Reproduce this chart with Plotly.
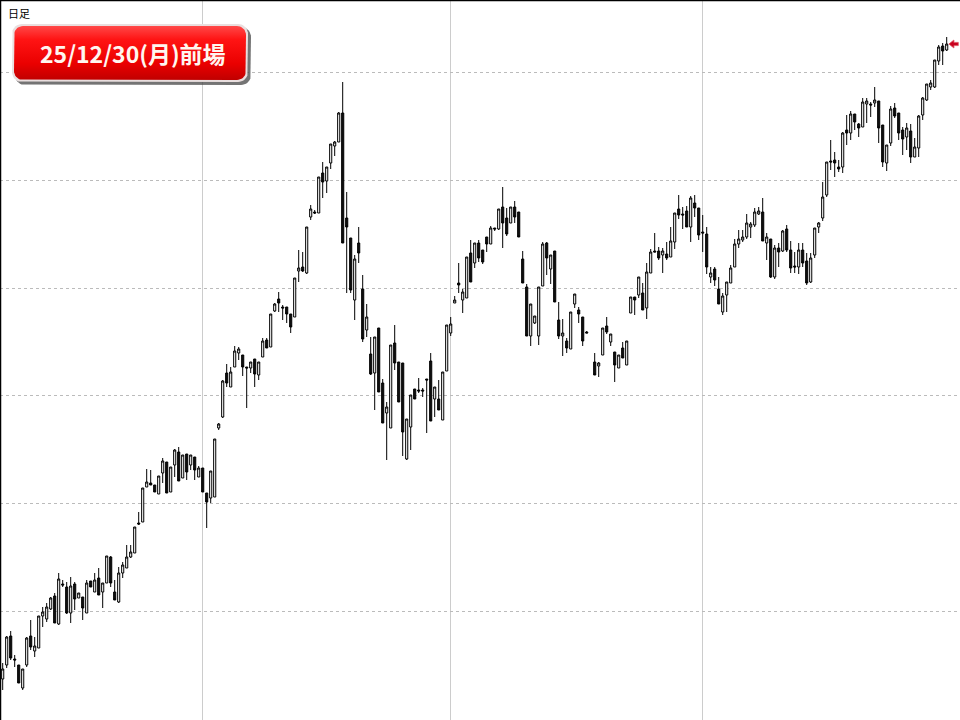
import numpy as np
import plotly.graph_objects as go

# ---------------- data (trading-day index, price units) ----------------
day = list(range(0, 147)) + list(range(148, 237))   # one empty session at 147

open_ = [41, 55, 84, 61, 55, 32, 55, 84, 69, 72,
         104, 101, 111, 124, 96, 136, 133, 107, 136, 122,
         123, 107, 139, 128, 142, 128, 137, 163, 128, 118,
         147, 152, 163, 167, 197, 198, 233, 237, 235, 226,
         247, 258, 228, 255, 268, 242, 266, 255, 263, 243,
         252, 227, 222, 223, 292, 303, 347, 333, 353, 367,
         365, 353, 352, 361, 345, 363, 380, 373, 409, 421,
         413, 413, 406, 403, 449, 453, 447, 503, 508, 507,
         547, 539, 557, 574, 578, 607, 502, 482, 420, 477,
         431, 390, 366, 347, 392, 337, 307, 292, 377, 358,
         357, 261, 293, 331, 330, 330, 341, 359, 321, 321,
         300, 349, 387, 417, 437, 420, 422, 467, 457, 477,
         470, 483, 476, 492, 491, 513, 502, 497, 513, 508,
         461, 433, 384, 397, 384, 434, 477, 451, 469, 400,
         384, 379, 371, 416, 410, 403, 388, 358, 354,
         365, 394, 378, 368, 352, 372, 355, 407, 423, 425,
         427, 412, 447, 469, 469, 465, 466, 463, 478, 511,
         506, 509, 493, 517, 512, 488, 486, 443, 451, 431,
         408, 425, 437, 453, 476, 480, 483, 493, 495, 506,
         508, 477, 481, 443, 472, 469, 491, 470, 454, 453,
         470, 459, 438, 465, 493, 502, 525, 559, 560, 553,
         553, 590, 587, 606, 596, 593, 616, 616, 617, 619,
         595, 557, 577, 612, 607, 590, 583, 589, 563, 572,
         605, 620, 633, 633, 659, 674, 670]

high = [57, 84, 89, 65, 55, 51, 83, 100, 83, 104,
        113, 117, 123, 127, 147, 140, 138, 143, 138, 127,
        123, 140, 139, 147, 152, 137, 164, 164, 140, 153,
        158, 175, 175, 193, 208, 232, 251, 250, 235, 244,
        262, 258, 253, 271, 273, 265, 266, 265, 263, 254,
        252, 227, 249, 281, 297, 340, 356, 353, 374, 373,
        365, 353, 358, 361, 358, 382, 382, 406, 417, 428,
        415, 413, 406, 442, 470, 468, 493, 515, 510, 543,
        558, 553, 576, 579, 608, 638, 528, 482, 465, 493,
        445, 416, 383, 383, 392, 341, 318, 375, 395, 358,
        357, 301, 325, 331, 342, 332, 341, 367, 333, 340,
        348, 395, 403, 424, 457, 431, 463, 480, 477, 480,
        470, 483, 494, 492, 511, 533, 512, 513, 519, 508,
        469, 436, 416, 404, 433, 478, 478, 465, 469, 418,
        401, 382, 408, 426, 413, 403, 389, 367, 358,
        392, 403, 386, 368, 365, 378, 379, 423, 423, 443,
        437, 457, 471, 487, 473, 472, 478, 493, 507, 525,
        513, 514, 524, 525, 512, 505, 493, 453, 453, 443,
        427, 438, 455, 481, 490, 490, 506, 498, 512, 513,
        522, 487, 481, 475, 477, 490, 495, 479, 468, 477,
        477, 467, 467, 492, 498, 538, 558, 580, 568, 560,
        588, 605, 609, 606, 597, 622, 622, 618, 633, 619,
        595, 575, 614, 617, 607, 593, 597, 596, 582, 605,
        623, 636, 640, 660, 675, 677, 683]

low = [30, 52, 60, 53, 37, 30, 53, 70, 63, 72,
       93, 98, 110, 97, 95, 133, 106, 97, 110, 122,
       100, 107, 133, 128, 125, 112, 137, 133, 120, 117,
       142, 152, 162, 167, 195, 198, 233, 235, 228, 226,
       237, 227, 228, 243, 239, 242, 240, 250, 240, 243,
       228, 192, 217, 223, 290, 302, 333, 333, 353, 360,
       344, 312, 347, 333, 340, 363, 372, 373, 408, 408,
       400, 397, 387, 403, 438, 448, 446, 500, 506, 507,
       522, 527, 551, 564, 578, 477, 427, 427, 400, 457,
       378, 383, 345, 310, 328, 297, 260, 292, 350, 318,
       264, 260, 270, 321, 327, 323, 287, 299, 303, 310,
       300, 349, 384, 417, 427, 407, 422, 438, 452, 458,
       456, 468, 476, 489, 490, 472, 484, 497, 497, 483,
       437, 384, 374, 396, 375, 434, 445, 436, 418, 381,
       364, 367, 371, 412, 397, 374, 387, 345, 343,
       365, 386, 374, 338, 352, 362, 355, 407, 405, 422,
       410, 401, 447, 468, 460, 447, 460, 463, 471, 501,
       491, 493, 478, 503, 480, 468, 446, 437, 434, 416,
       405, 408, 437, 453, 472, 478, 481, 482, 493, 505,
       479, 460, 442, 441, 453, 468, 468, 447, 447, 446,
       453, 435, 437, 462, 487, 499, 523, 550, 543, 548,
       547, 575, 580, 590, 583, 593, 597, 603, 613, 577,
       553, 549, 574, 602, 580, 565, 570, 557, 563, 563,
       600, 619, 630, 632, 655, 655, 669]

close = [51, 83, 62, 60, 37, 51, 82, 73, 74, 104,
         108, 113, 122, 97, 141, 135, 107, 134, 121, 127,
         112, 137, 133, 140, 125, 137, 164, 137, 120, 147,
         155, 163, 168, 193, 196, 232, 238, 235, 228, 244,
         259, 227, 253, 270, 239, 265, 248, 265, 250, 252,
         228, 218, 249, 281, 296, 339, 337, 348, 369, 371,
         353, 352, 358, 346, 358, 379, 372, 406, 416, 417,
         412, 406, 393, 442, 452, 449, 493, 511, 507, 543,
         538, 553, 576, 578, 607, 477, 493, 430, 461, 467,
         381, 403, 346, 383, 328, 297, 313, 375, 357, 318,
         288, 301, 325, 321, 329, 329, 340, 299, 333, 310,
         348, 395, 396, 420, 435, 428, 463, 438, 477, 462,
         458, 476, 492, 491, 511, 497, 486, 513, 503, 483,
         437, 384, 416, 404, 433, 476, 462, 465, 418, 384,
         387, 372, 408, 426, 406, 379, 387, 345, 357,
         392, 388, 386, 355, 365, 362, 379, 423, 420, 443,
         410, 448, 468, 468, 462, 469, 462, 479, 507, 505,
         505, 493, 522, 512, 485, 487, 453, 447, 440, 416,
         424, 438, 452, 476, 481, 483, 497, 496, 508, 509,
         479, 483, 443, 472, 468, 489, 470, 452, 453, 470,
         457, 437, 462, 492, 497, 523, 558, 558, 557, 551,
         587, 587, 606, 598, 592, 618, 619, 615, 620, 592,
         558, 575, 611, 604, 587, 581, 592, 563, 573, 604,
         622, 636, 637, 660, 673, 669, 676]

grid_y = [108.7, 216.5, 324.2, 432.0, 539.7, 647.5]   # horizontal guide levels
grid_x = [50, 112, 175]                               # month separators (day index)
badge_text = "25/12/30(月)前場"
corner_text = "日足"

# ---------------- figure ----------------
W, H = 960, 720
fig = go.Figure()

fig.add_trace(go.Candlestick(
    x=day, open=open_, high=high, low=low, close=close,
    increasing=dict(line=dict(color="#000000", width=1), fillcolor="#ffffff"),
    decreasing=dict(line=dict(color="#000000", width=1), fillcolor="#111111"),
    whiskerwidth=0, showlegend=False, hoverinfo="skip",
))

# current-price marker (red arrow) at the last close
lx = day[-1]
lc = close[-1]
fig.add_trace(go.Scatter(
    x=[lx + 0.55, lx + 1.8, lx + 1.8, lx + 2.9, lx + 2.9, lx + 1.8, lx + 1.8, lx + 0.55],
    y=[lc, lc + 4, lc + 1.6, lc + 1.6, lc - 1.6, lc - 1.6, lc - 4, lc],
    mode="lines", fill="toself", fillcolor="#c8001e",
    line=dict(color="#e05060", width=0.8), showlegend=False, hoverinfo="skip",
))


# ---------------- red badge on a pixel overlay ----------------
def rrect(x0, y0, x1, y1, r, n=10):
    xs, ys = [], []
    for cx, cy, a0, a1 in [(x1 - r, y0 + r, -90, 0), (x1 - r, y1 - r, 0, 90),
                           (x0 + r, y1 - r, 90, 180), (x0 + r, y0 + r, 180, 270)]:
        a = np.radians(np.linspace(a0, a1, n))
        xs += list(cx + r * np.cos(a))
        ys += list(cy + r * np.sin(a))
    xs.append(xs[0]); ys.append(ys[0])
    return xs, ys

bx0, by0, bx1, by1 = 12, 24, 248, 82
# drop shadow
sx, sy = rrect(bx0 + 3, by0 + 3, bx1 + 3, by1 + 3, 10)
fig.add_trace(go.Scatter(x=sx, y=sy, xaxis="x2", yaxis="y2", mode="lines", fill="toself",
                         fillcolor="rgba(70,70,70,0.75)", line=dict(width=0),
                         showlegend=False, hoverinfo="skip"))
# light rim
ox, oy = rrect(bx0, by0, bx1, by1, 10)
fig.add_trace(go.Scatter(x=ox, y=oy, xaxis="x2", yaxis="y2", mode="lines", fill="toself",
                         fillcolor="#e9dede", line=dict(width=0),
                         showlegend=False, hoverinfo="skip"))
# red gradient body
ix, iy = rrect(bx0 + 2, by0 + 2, bx1 - 2, by1 - 2, 9)
fig.add_trace(go.Scatter(x=ix, y=iy, xaxis="x2", yaxis="y2", mode="lines", fill="toself",
                         fillgradient=dict(type="vertical", start=by0 + 2, stop=by1 - 2,
                                           colorscale=[[0, "#ff4848"], [0.25, "#ff1414"],
                                                       [0.7, "#ea0000"], [1, "#c00000"]]),
                         line=dict(width=0), showlegend=False, hoverinfo="skip"))

fig.add_annotation(x=(bx0 + bx1) / 2 + 3, y=(by0 + by1) / 2, xref="x2", yref="y2",
                   text="<b>" + badge_text + "</b>", showarrow=False,
                   font=dict(family="Noto Sans CJK JP", size=23, color="#fff6f0"),
                   xanchor="center", yanchor="middle")

fig.add_annotation(x=6, y=3, xref="x2", yref="y2", text=corner_text, showarrow=False,
                   font=dict(family="Noto Sans CJK JP", size=11, color="#000000"),
                   xanchor="left", yanchor="top")

# frame (top and left edges)
fig.add_shape(type="line", xref="paper", yref="paper", x0=0, x1=1, y0=1, y1=1,
              line=dict(color="#000000", width=2.5))
fig.add_shape(type="line", xref="paper", yref="paper", x0=0, x1=0, y0=0, y1=1,
              line=dict(color="#000000", width=2.5))

fig.update_layout(
    width=W, height=H,
    margin=dict(l=0, r=0, t=0, b=0),
    paper_bgcolor="#ffffff", plot_bgcolor="#ffffff",
    hovermode=False, showlegend=False, boxgap=0.25,
    xaxis=dict(range=[-0.675, 239.325], tickvals=grid_x, showticklabels=False, ticks="",
               showgrid=True, gridcolor="#cccccc", gridwidth=1.5, zeroline=False,
               showline=False, rangeslider=dict(visible=False), fixedrange=True),
    yaxis=dict(range=[0, 720], tickvals=grid_y, showticklabels=False, ticks="",
               showgrid=True, gridcolor="#bbbbbb", gridwidth=1, griddash="dot",
               zeroline=False, showline=False, fixedrange=True),
    xaxis2=dict(range=[0, W], overlaying="x", visible=False, fixedrange=True, anchor="y2"),
    yaxis2=dict(range=[H, 0], overlaying="y", visible=False, fixedrange=True, anchor="x2"),
)

fig.write_html("out.html", config={"displayModeBar": False, "staticPlot": True},
               post_script="document.body.style.margin='0';document.body.style.overflow='hidden';")
